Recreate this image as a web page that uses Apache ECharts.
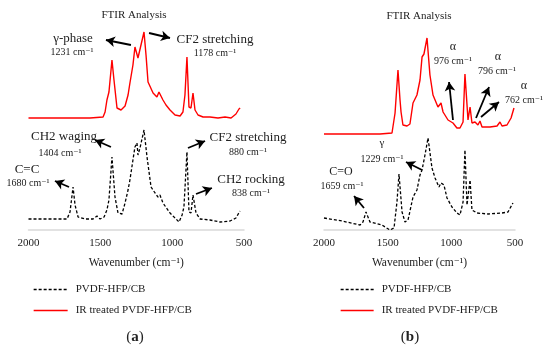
<!DOCTYPE html>
<html><head><meta charset="utf-8">
<script src="https://cdn.jsdelivr.net/npm/echarts@6/dist/echarts.min.js"></script>
<style>html,body{margin:0;padding:0;background:#fff}#c{width:550px;height:351px}</style>
</head><body><div id="c"></div>
<script>
const xTicks = [2000, 1500, 1000, 500];
const seriesNames = ['PVDF-HFP/CB', 'IR treated PVDF-HFP/CB'];

// Panel (a) — wavenumber (cm-1) and relative absorbance (a.u., stacked offset)
const aBlackWn = [2000,1850,1732,1711,1690,1676,1655,1607,1551,1523,1502,1474,1454,1440,1419,1398,1377,1349,1328,1307,1294,1273,1259,1245,1238,1224,1196,1175,1147,1119,1099,1085,1064,1015,952,931,918,897,883,869,855,834,806,737,667,597,556,528];
const aBlackAbs = [0.11,0.11,0.11,0.18,0.43,0.25,0.13,0.11,0.11,0.14,0.11,0.13,0.20,0.30,0.73,0.33,0.17,0.16,0.27,0.40,0.50,0.70,0.83,0.87,0.75,0.82,1.00,0.73,0.43,0.37,0.33,0.35,0.27,0.17,0.08,0.15,0.23,0.78,0.18,0.17,0.35,0.17,0.11,0.10,0.08,0.09,0.12,0.19];
const aRedWn = [2000,1781,1572,1481,1467,1454,1440,1419,1405,1384,1356,1328,1307,1294,1273,1259,1238,1196,1182,1168,1133,1106,1092,1064,1043,1015,980,945,925,911,897,883,869,855,841,820,785,737,681,632,590,556,535,527];
const aRedAbs = [1.12,1.12,1.12,1.13,1.18,1.30,1.38,1.70,1.50,1.22,1.20,1.24,1.35,1.47,1.65,1.83,1.72,1.98,1.75,1.48,1.37,1.33,1.38,1.30,1.25,1.20,1.15,1.14,1.18,1.35,1.73,1.23,1.22,1.37,1.20,1.15,1.13,1.13,1.12,1.13,1.12,1.16,1.21,1.22];

// Panel (b)
const bBlackWn = [2000,1859,1717,1694,1670,1639,1545,1482,1450,1427,1411,1387,1364,1340,1301,1270,1246,1230,1207,1183,1152,1128,1097,1081,1058,1034,995,956,932,908,893,877,853,838,798,712,602,555,516];
const bBlackAbs = [0.12,0.09,0.05,0.08,0.18,0.08,0.05,0.00,0.02,0.28,0.56,0.18,0.08,0.10,0.33,0.40,0.55,0.60,0.75,0.92,0.62,0.52,0.43,0.47,0.45,0.32,0.23,0.17,0.15,0.28,0.80,0.25,0.50,0.20,0.17,0.16,0.17,0.18,0.27];
const bRedWn = [2000,1796,1560,1466,1442,1419,1403,1395,1380,1348,1325,1301,1270,1246,1230,1215,1191,1168,1144,1105,1081,1065,1026,987,956,932,908,893,869,853,838,814,791,775,759,696,641,618,602,563,531,508];
const bRedAbs = [0.96,0.96,0.96,0.97,1.17,1.60,1.30,1.18,1.05,1.04,1.06,1.27,1.35,1.50,1.73,1.76,1.92,1.55,1.35,1.23,1.27,1.18,1.10,1.07,1.02,1.02,1.08,1.56,1.10,1.23,1.07,1.08,1.05,1.09,1.03,1.03,1.04,1.08,1.04,1.05,1.12,1.22];

// Annotation arrows: [fromWn, fromAbs, toWn, toAbs]
const aArrows = [[1287,1.85,1461,1.90],[1161,1.97,1015,1.92],[1426,0.83,1537,0.90],[1718,0.43,1816,0.49],[890,0.82,771,0.89],[834,0.36,723,0.42]];
const bArrows = [[987,1.10,1018,1.48],[806,1.12,704,1.43],[767,1.13,626,1.28],[1230,0.60,1356,0.68],[1686,0.22,1764,0.34]];

const zip = (w, v) => w.map((x, i) => [x, v[i]]);
const SERIF = '"Liberation Serif","DejaVu Serif",serif';
const INK = '#222';

function xAxisFor(gi) {
  return {
    gridIndex: gi, type: 'value', inverse: true, min: 500, max: 2000, interval: 500,
    axisLine: { show: true, lineStyle: { color: '#d9d9d9', width: 1.5 } },
    axisTick: { show: false }, splitLine: { show: false },
    axisLabel: { color: INK, fontFamily: SERIF, fontSize: 11, margin: 8,
      formatter: v => xTicks.includes(v) ? String(v) : '' },
    name: 'Wavenumber (cm\u207B\u00B9)', nameLocation: 'middle', nameGap: 27,
    nameTextStyle: { color: INK, fontFamily: SERIF, fontSize: 11.5 }
  };
}
function yAxisFor(gi) {
  return { gridIndex: gi, type: 'value', min: 0, max: 2.1, show: false };
}
function arrowLines(list) {
  return list.map(a => [
    { coord: [a[0], a[1]], symbol: 'none' },
    { coord: [a[2], a[3]], symbol: 'arrow', symbolSize: [8, 9] }
  ]);
}
function blackSeries(gi, data, arrows) {
  return {
    name: seriesNames[0], type: 'line', xAxisIndex: gi, yAxisIndex: gi, data,
    symbol: 'none', clip: false, z: 2,
    lineStyle: { color: '#000', width: 1.3, type: [3, 2] },
    itemStyle: { color: '#000' },
    markLine: {
      silent: true, animation: false, symbol: ['none', 'arrow'],
      lineStyle: { color: '#000', width: 1.8, type: 'solid' },
      label: { show: false },
      data: arrowLines(arrows)
    }
  };
}
function redSeries(gi, data) {
  return {
    name: seriesNames[1], type: 'line', xAxisIndex: gi, yAxisIndex: gi, data,
    symbol: 'none', clip: false, z: 3,
    lineStyle: { color: '#ff0000', width: 1.4 }, itemStyle: { color: '#ff0000' }
  };
}
function txt(s, x, y, size, extra) {
  return { type: 'text', x, y, silent: true,
    style: Object.assign({ text: s, fill: INK, font: size + 'px ' + SERIF, align: 'center', verticalAlign: 'middle' }, extra || {}) };
}
const CM = ' cm\u207B\u00B9';
function legendFor(left, w) {
  return {
    left, top: 284, orient: 'vertical', selectedMode: false, padding: 0,
    data: seriesNames, itemWidth: w, itemHeight: 10, itemGap: 10,
    itemStyle: { opacity: 0 }, lineStyle: { width: 1.3 },
    textStyle: { color: INK, fontFamily: SERIF, fontSize: 11, padding: [0, 0, 0, 3] }
  };
}

const chart = echarts.init(document.getElementById('c'), null, { renderer: 'canvas' });
chart.setOption({
  animation: false,
  backgroundColor: '#fff',
  grid: [
    { left: 28.5, top: 20, width: 215.5, height: 210 },
    { left: 324, top: 20, width: 191, height: 210 }
  ],
  xAxis: [xAxisFor(0), xAxisFor(1)],
  yAxis: [yAxisFor(0), yAxisFor(1)],
  legend: [legendFor(33, 34), legendFor(340, 33)],
  series: [
    blackSeries(0, zip(aBlackWn, aBlackAbs), aArrows),
    redSeries(0, zip(aRedWn, aRedAbs)),
    blackSeries(1, zip(bBlackWn, bBlackAbs), bArrows),
    redSeries(1, zip(bRedWn, bRedAbs))
  ],
  graphic: [
    txt('FTIR Analysis', 134, 15, 11),
    txt('\u03B3-phase', 73, 39, 13), txt('1231' + CM, 72, 52, 10),
    txt('CF2 stretching', 215, 40, 13), txt('1178' + CM, 215, 53, 10),
    txt('CH2 waging', 64, 137, 13), txt('1404' + CM, 60, 153, 10),
    txt('C=C', 27, 170, 13), txt('1680' + CM, 28, 183, 10),
    txt('CF2 stretching', 248, 138, 13), txt('880' + CM, 248, 152, 10),
    txt('CH2 rocking', 251, 180, 13), txt('838' + CM, 251, 193, 10),
    txt('FTIR Analysis', 419, 16, 11),
    txt('\u03B1', 453, 47, 12), txt('976' + CM, 453, 61, 10),
    txt('\u03B1', 498, 57, 12), txt('796' + CM, 497, 71, 10),
    txt('\u03B1', 524, 86, 12), txt('762' + CM, 524, 100, 10),
    txt('\u03B3', 382, 143, 11), txt('1229' + CM, 382, 159, 10),
    txt('C=O', 341, 172, 12), txt('1659' + CM, 342, 186, 10),
    { type: 'text', x: 135, y: 337, silent: true, style: { text: '{n|(}{b|a}{n|)}', align: 'center', verticalAlign: 'middle',
      rich: { n: { fontFamily: SERIF, fontSize: 15, fill: INK, color: INK }, b: { fontFamily: SERIF, fontSize: 15, fontWeight: 'bold', fill: INK, color: INK } } } },
    { type: 'text', x: 410, y: 337, silent: true, style: { text: '{n|(}{b|b}{n|)}', align: 'center', verticalAlign: 'middle',
      rich: { n: { fontFamily: SERIF, fontSize: 15, fill: INK, color: INK }, b: { fontFamily: SERIF, fontSize: 15, fontWeight: 'bold', fill: INK, color: INK } } } }
  ]
});
</script>
</body></html>
